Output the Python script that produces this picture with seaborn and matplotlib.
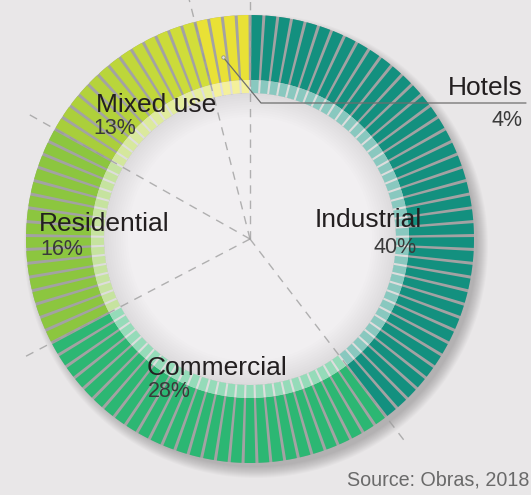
import numpy as np
import matplotlib
matplotlib.use("Agg")
import matplotlib.pyplot as plt
from matplotlib.patches import Circle
import seaborn as sns

# data
categories = ["Industrial", "Commercial", "Residential", "Mixed use", "Hotels"]
shares = [40, 28, 16, 13, 4]
share_labels = ["40%", "28%", "16%", "13%", "4%"]
source_note = "Source: Obras, 2018"

sns.set_style("white")
plt.rcParams["font.family"] = ["Liberation Sans", "DejaVu Sans"]

BG = "#e9e7e8"
base_colors = {
    "Industrial": ["#13907f", "#13907f"],
    "Commercial": ["#2cb773", "#2cb773"],
    "Residential": ["#8cc63f", "#8cc63f"],
    "Mixed use": ["#a8ce3b", "#d2de3a"],
    "Hotels": ["#e9e136", "#e9e136"],
}

spoke_colors = []
for cat, n in zip(categories, shares):
    c0, c1 = base_colors[cat]
    spoke_colors += sns.blend_palette([c0, c1], n)

n_spokes = len(spoke_colors)
step = 2 * np.pi / n_spokes
theta = (np.arange(n_spokes) + 0.5) * step


def lighten(c, amt):
    c = np.array(matplotlib.colors.to_rgb(c))
    return tuple(c + (1 - c) * amt)


light_colors = [lighten(c, 0.5) for c in spoke_colors]

fig = plt.figure(figsize=(5.31, 4.95), dpi=100)
fig.patch.set_facecolor(BG)

cx, cy, R = 250, 239, 240
r_in, r_mid, r_out = 146, 159, 224

# background layer: soft drop shadow towards the lower right
bg = fig.add_axes([0, 0, 1, 1])
bg.set_xlim(0, 531)
bg.set_ylim(495, 0)
bg.axis("off")
for k in range(12):
    bg.add_patch(Circle((cx + 6, cy + 7), r_out + 8 - k, color="#000000",
                        alpha=0.02, lw=0))

# polar axes centred at (cx, cy) px, radius R px == R units
ax = fig.add_axes([(cx - R) / 531, (495 - cy - R) / 495, 2 * R / 531, 2 * R / 495],
                  projection="polar")
ax.set_theta_zero_location("N")
ax.set_theta_direction(-1)
ax.set_ylim(0, R)
ax.set_facecolor("none")
ax.grid(False)
ax.set_xticks([])
ax.set_yticks([])
ax.spines["polar"].set_visible(False)

# inner disc with a faint shade near the ring
ax.bar(0, r_in, width=2 * np.pi, bottom=0, color="#f1eff1", linewidth=0, zorder=1)
for k in range(10):
    b = 122 + k * 2.4
    ax.bar(0, r_in - b, width=2 * np.pi, bottom=b, color="#000000", alpha=0.008,
           linewidth=0, zorder=1)

# gaps between the spokes
ax.bar(0, r_out - r_mid, width=2 * np.pi, bottom=r_mid, color="#a3a2a3", linewidth=0, zorder=2)
ax.bar(0, r_mid - r_in, width=2 * np.pi, bottom=r_in, color="#dedddd", linewidth=0, zorder=2)

ax.bar(theta, r_out - r_mid, width=step * 0.78, bottom=r_mid, color=spoke_colors,
       linewidth=0, zorder=3)
ax.bar(theta, r_mid - r_in, width=step * 0.78, bottom=r_in, color=light_colors,
       linewidth=0, zorder=3)

# dashed dividers from the centre
bounds = np.concatenate([[0], np.cumsum(shares)]) * step
for b in bounds[:-1]:
    ax.plot([b, b], [0, 258], color="#9a9a9a", lw=1.0, ls=(0, (6, 5)),
            alpha=0.75, zorder=4, clip_on=False)

# overlay for text in pixel coords
ov = fig.add_axes([0, 0, 1, 1])
ov.set_xlim(0, 531)
ov.set_ylim(495, 0)
ov.axis("off")
ov.patch.set_alpha(0)

name_fs, pct_fs = 19, 15.5
dark, mid = "#231f20", "#3a3a3a"
label_pos = {
    "Industrial": ((315, 227), (374, 253)),
    "Commercial": ((147, 375), (148, 397)),
    "Residential": ((39, 231), (40, 255)),
    "Mixed use": ((96, 112), (93, 134)),
}
for cat, pct in zip(categories, share_labels):
    if cat in label_pos:
        (nx, ny), (px, py) = label_pos[cat]
        ov.text(nx, ny, cat, fontsize=name_fs, color=dark, va="baseline", ha="left")
        ov.text(px, py, pct, fontsize=pct_fs, color=mid, va="baseline", ha="left")

ov.text(523, 95, categories[4], fontsize=name_fs, color=dark, va="baseline", ha="right")
ov.text(522, 126, share_labels[4], fontsize=pct_fs, color=mid, va="baseline", ha="right")
ov.plot([223, 261, 526], [57, 103, 103], color="#6e6e6e", lw=0.9)
ov.plot([223], [57], "o", ms=2.5, color="#e0e0e0", mec="#8a8a8a", mew=0.5)

ov.text(347, 486, source_note, fontsize=14.2, color="#6a6a6a", va="baseline", ha="left")

fig.savefig("out.png", dpi=100, facecolor=BG)
